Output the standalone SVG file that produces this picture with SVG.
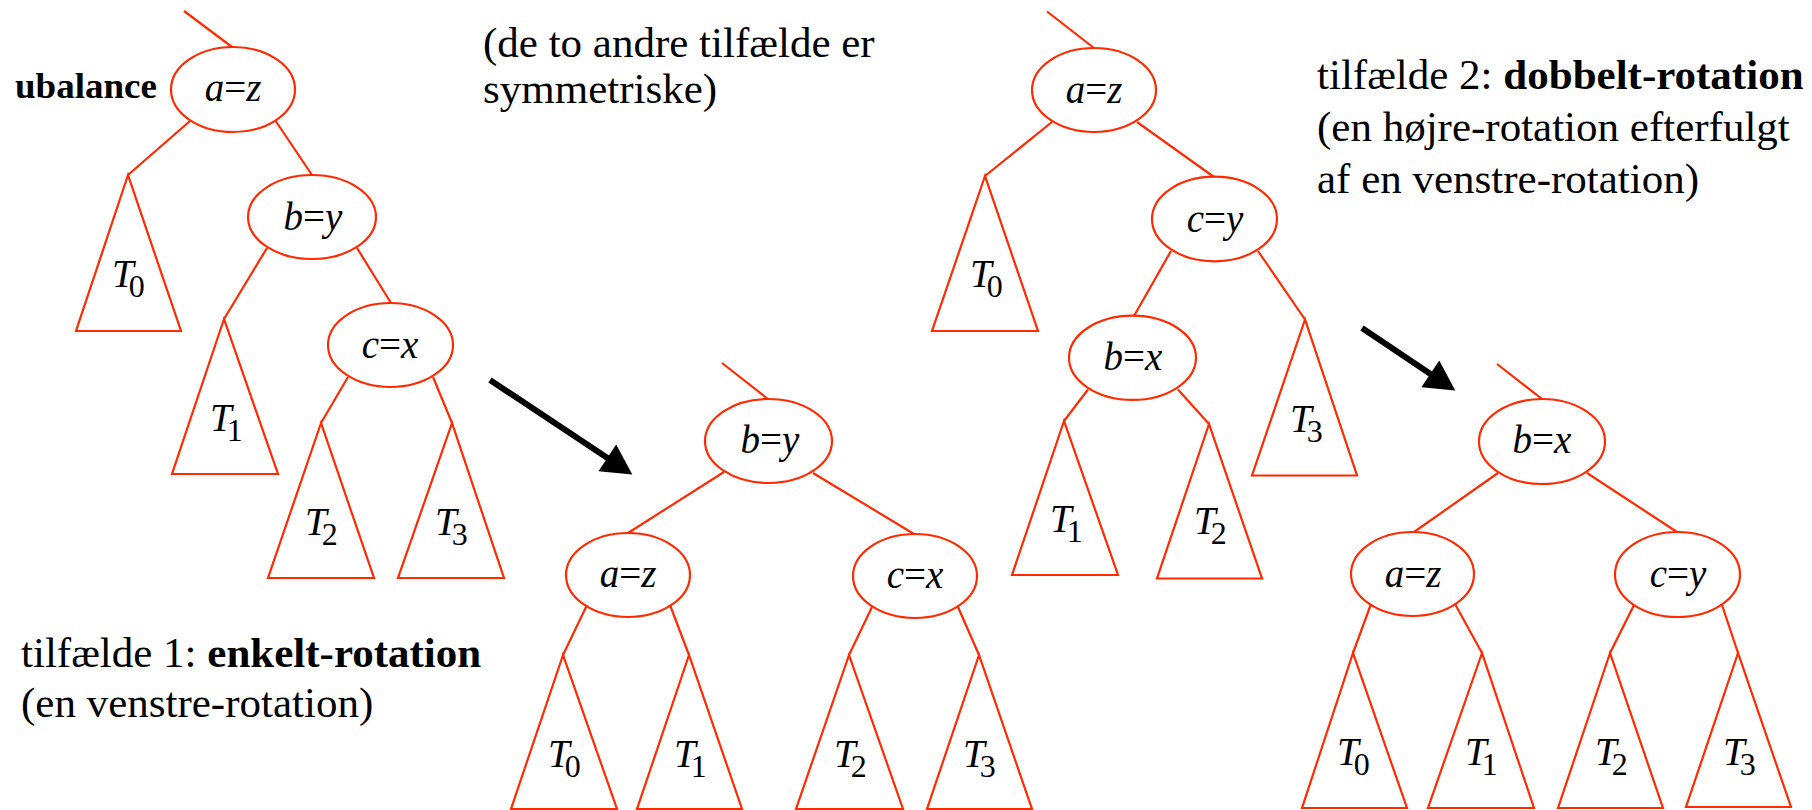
<svg xmlns="http://www.w3.org/2000/svg" width="1812" height="810" viewBox="0 0 1812 810">
<style>
.e{fill:none;stroke:#ff2a00;stroke-width:2.2}
.c line{stroke:#ff2a00;stroke-width:2.2}
.tri{fill:none;stroke:#ff2a00;stroke-width:2.2;stroke-linejoin:miter}
.lbl{font-family:"Liberation Serif","Times New Roman",serif;font-size:39px;font-style:italic;fill:#000;text-anchor:middle}
.lbl .eq{font-style:normal}
.t{font-family:"Liberation Serif","Times New Roman",serif;font-size:39px;font-style:italic;fill:#000}
.t .s{font-style:normal;font-size:32px}
.txt{font-family:"Liberation Serif","Times New Roman",serif;font-size:43px;fill:#000}
.b{font-weight:bold}
.arr{stroke:#000;stroke-width:6;fill:none}
</style>
<defs>
<marker id="ah" markerUnits="userSpaceOnUse" markerWidth="32" markerHeight="32" viewBox="0 0 30 32" refX="2" refY="16" orient="auto">
<path d="M0,0 L30,16 L0,32 z" fill="#000"/>
</marker>
</defs>

<g id="connectors" class="c">
<!-- tree 1 -->
<line x1="184" y1="11" x2="232" y2="47"/>
<line x1="190" y1="121" x2="128" y2="175"/>
<line x1="275" y1="120" x2="312" y2="175"/>
<line x1="267" y1="248" x2="224" y2="319"/>
<line x1="357" y1="248" x2="391" y2="303"/>
<line x1="348" y1="377" x2="321" y2="423"/>
<line x1="433" y1="377" x2="452" y2="423"/>
<!-- tree 2 -->
<line x1="722" y1="363" x2="768" y2="399"/>
<line x1="724" y1="472" x2="628" y2="533"/>
<line x1="813" y1="473" x2="914" y2="534"/>
<line x1="587" y1="605" x2="563" y2="655"/>
<line x1="670" y1="605" x2="689" y2="655"/>
<line x1="872" y1="607" x2="849" y2="655"/>
<line x1="958" y1="607" x2="979" y2="655"/>
<!-- tree 3 -->
<line x1="1047" y1="11.5" x2="1094" y2="48"/>
<line x1="1052" y1="122" x2="985" y2="176"/>
<line x1="1137" y1="122" x2="1214" y2="177"/>
<line x1="1171" y1="251" x2="1134" y2="316"/>
<line x1="1258" y1="251" x2="1305" y2="319.5"/>
<line x1="1088" y1="389.5" x2="1064" y2="421"/>
<line x1="1178" y1="389.5" x2="1209" y2="424"/>
<!-- tree 4 -->
<line x1="1497" y1="364" x2="1542" y2="399"/>
<line x1="1498" y1="473" x2="1414" y2="532"/>
<line x1="1587" y1="473" x2="1677" y2="532"/>
<line x1="1371" y1="604" x2="1353" y2="653"/>
<line x1="1455" y1="604" x2="1482" y2="653"/>
<line x1="1634" y1="605" x2="1610" y2="653"/>
<line x1="1722" y1="605" x2="1738" y2="653"/>
</g>

<g id="arrows">
<line class="arr" x1="490" y1="380" x2="609" y2="459" marker-end="url(#ah)"/>
<line class="arr" x1="1362" y1="328" x2="1432" y2="375" marker-end="url(#ah)"/>
</g>

<!-- tree 1 -->
<g id="t1-a"><ellipse class="e" cx="233" cy="89.5" rx="62" ry="42.5"/><text class="lbl" x="233" y="101">a<tspan class="eq">=</tspan>z</text></g>
<g id="t1-b"><ellipse class="e" cx="312" cy="217" rx="64" ry="42"/><text class="lbl" x="313" y="230">b<tspan class="eq">=</tspan>y</text></g>
<g id="t1-c"><ellipse class="e" cx="390.5" cy="345" rx="62.5" ry="42"/><text class="lbl" x="390" y="358">c<tspan class="eq">=</tspan>x</text></g>
<g id="t1-T0"><polygon class="tri" points="128,175 76,331 181,331"/><text class="t" x="112" y="287">T<tspan class="s" dx="-5" dy="10">0</tspan></text></g>
<g id="t1-T1"><polygon class="tri" points="224,319 172,474 278,474"/><text class="t" x="210" y="431">T<tspan class="s" dx="-5" dy="10">1</tspan></text></g>
<g id="t1-T2"><polygon class="tri" points="321,423 268,578 374,578"/><text class="t" x="305" y="535">T<tspan class="s" dx="-5" dy="10">2</tspan></text></g>
<g id="t1-T3"><polygon class="tri" points="452,423 398,578 504,578"/><text class="t" x="435" y="535">T<tspan class="s" dx="-5" dy="10">3</tspan></text></g>

<!-- tree 2 -->
<g id="t2-b"><ellipse class="e" cx="768.5" cy="441" rx="63.5" ry="42"/><text class="lbl" x="770" y="453">b<tspan class="eq">=</tspan>y</text></g>
<g id="t2-a"><ellipse class="e" cx="628" cy="575" rx="62" ry="42"/><text class="lbl" x="628" y="587">a<tspan class="eq">=</tspan>z</text></g>
<g id="t2-c"><ellipse class="e" cx="915" cy="576" rx="62" ry="42"/><text class="lbl" x="915" y="588">c<tspan class="eq">=</tspan>x</text></g>
<g id="t2-T0"><polygon class="tri" points="563,655 511,809 617,809"/><text class="t" x="548" y="767">T<tspan class="s" dx="-5" dy="10">0</tspan></text></g>
<g id="t2-T1"><polygon class="tri" points="689,655 637,809 742,809"/><text class="t" x="674" y="767">T<tspan class="s" dx="-5" dy="10">1</tspan></text></g>
<g id="t2-T2"><polygon class="tri" points="849,655 796,809 903,809"/><text class="t" x="834" y="767">T<tspan class="s" dx="-5" dy="10">2</tspan></text></g>
<g id="t2-T3"><polygon class="tri" points="979,655 927,809 1032,809"/><text class="t" x="963" y="767">T<tspan class="s" dx="-5" dy="10">3</tspan></text></g>

<!-- tree 3 -->
<g id="t3-a"><ellipse class="e" cx="1094" cy="90" rx="62" ry="42"/><text class="lbl" x="1094" y="102.5">a<tspan class="eq">=</tspan>z</text></g>
<g id="t3-c"><ellipse class="e" cx="1214.5" cy="219" rx="62.5" ry="42.3"/><text class="lbl" x="1215" y="231.5">c<tspan class="eq">=</tspan>y</text></g>
<g id="t3-b"><ellipse class="e" cx="1132.5" cy="357.8" rx="63.5" ry="42.1"/><text class="lbl" x="1133" y="369.5">b<tspan class="eq">=</tspan>x</text></g>
<g id="t3-T0"><polygon class="tri" points="985,176 932,331 1038,331"/><text class="t" x="970" y="287">T<tspan class="s" dx="-5" dy="10">0</tspan></text></g>
<g id="t3-T3"><polygon class="tri" points="1305,319.5 1252,475.5 1357,475.5"/><text class="t" x="1290" y="432">T<tspan class="s" dx="-5" dy="10">3</tspan></text></g>
<g id="t3-T1"><polygon class="tri" points="1064,421 1012,575 1118,575"/><text class="t" x="1050" y="532">T<tspan class="s" dx="-5" dy="10">1</tspan></text></g>
<g id="t3-T2"><polygon class="tri" points="1209,424 1157,578.5 1262,578.5"/><text class="t" x="1194" y="534">T<tspan class="s" dx="-5" dy="10">2</tspan></text></g>

<!-- tree 4 -->
<g id="t4-b"><ellipse class="e" cx="1542" cy="441.5" rx="63" ry="42.5"/><text class="lbl" x="1542" y="453">b<tspan class="eq">=</tspan>x</text></g>
<g id="t4-a"><ellipse class="e" cx="1412.5" cy="574" rx="61.5" ry="42"/><text class="lbl" x="1413" y="587">a<tspan class="eq">=</tspan>z</text></g>
<g id="t4-c"><ellipse class="e" cx="1677.5" cy="574.5" rx="62.5" ry="42.5"/><text class="lbl" x="1678" y="587">c<tspan class="eq">=</tspan>y</text></g>
<g id="t4-T0"><polygon class="tri" points="1353,653 1302,808 1407,808"/><text class="t" x="1337" y="765">T<tspan class="s" dx="-5" dy="10">0</tspan></text></g>
<g id="t4-T1"><polygon class="tri" points="1482,653 1428,808 1534,808"/><text class="t" x="1465" y="765">T<tspan class="s" dx="-5" dy="10">1</tspan></text></g>
<g id="t4-T2"><polygon class="tri" points="1610,653 1558,808 1663,808"/><text class="t" x="1595" y="765">T<tspan class="s" dx="-5" dy="10">2</tspan></text></g>
<g id="t4-T3"><polygon class="tri" points="1738,653 1686,807 1791,807"/><text class="t" x="1723" y="765">T<tspan class="s" dx="-5" dy="10">3</tspan></text></g>

<!-- texts -->
<g id="txt-ubalance"><text class="txt b" x="15" y="98" style="font-size:36px" textLength="142" lengthAdjust="spacingAndGlyphs">ubalance</text></g>
<g id="txt-symm"><text class="txt"><tspan x="483" y="57">(de to andre tilfælde er</tspan><tspan x="483" y="103">symmetriske)</tspan></text></g>
<g id="txt-case1"><text class="txt" x="21" y="667">tilfælde 1: <tspan class="b">enkelt-rotation</tspan></text><text class="txt" x="21" y="717">(en venstre-rotation)</text></g>
<g id="txt-case2"><text class="txt" x="1317" y="89">tilfælde 2: <tspan class="b">dobbelt-rotation</tspan></text><text class="txt" x="1317" y="141">(en højre-rotation efterfulgt</text><text class="txt" x="1317" y="193">af en venstre-rotation)</text></g>
</svg>
